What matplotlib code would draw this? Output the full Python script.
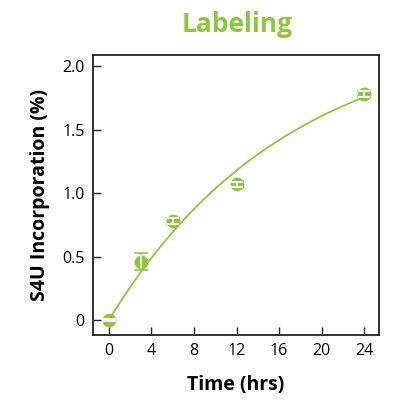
import matplotlib
matplotlib.use('Agg')
import matplotlib.pyplot as plt
import matplotlib.transforms as mtransforms
from matplotlib.patches import Circle
import numpy as np

# data
time_hrs = [0, 3, 6, 12, 24]
s4u_pct = [0.0, 0.46, 0.78, 1.07, 1.78]
s4u_err = [0.01, 0.07, 0.02, 0.02, 0.02]

# one-phase association fit: y = plateau * (1 - exp(-k t))
fit_plateau = 2.31
fit_k = 0.0594

xticks = [0, 4, 8, 12, 16, 20, 24]
yticks = [0, 0.5, 1.0, 1.5, 2.0]
ytick_labels = ['0', '0.5', '1.0', '1.5', '2.0']

green = '#8dc63f'

plt.rcParams['font.family'] = ['Open Sans', 'DejaVu Sans']

fig = plt.figure(figsize=(4.0, 4.07), dpi=100)
ax = fig.add_axes([93 / 400, 1 - 335 / 407, 286 / 400, 280 / 407])

ax.set_xlim(-1.5, 25.4)
ax.set_ylim(-0.118, 2.087)

t = np.linspace(0, 24, 200)
ax.plot(t, fit_plateau * (1 - np.exp(-fit_k * t)), color=green, lw=1.3, zorder=2)

# green error bars under the markers, white ones on top clipped to each marker
ax.errorbar(time_hrs, s4u_pct, yerr=s4u_err, fmt='none', ecolor=green,
            elinewidth=1.2, capsize=5, capthick=1.2, zorder=2.5)
ms = 10
ax.plot(time_hrs, s4u_pct, 'o', color=green, ms=ms, mec='none', zorder=3)

r_px = ms / 2 * fig.dpi / 72
for x, y, e in zip(time_hrs, s4u_pct, s4u_err):
    cx, cy = ax.transData.transform((x, y))
    clip = Circle((0, 0), 1, transform=mtransforms.Affine2D().scale(r_px).translate(cx, cy))
    _, caps, bars = ax.errorbar([x], [y], yerr=[e], fmt='none', ecolor='white',
                                elinewidth=1.2, capsize=5, capthick=1.2, zorder=4)
    for art in list(caps) + list(bars):
        art.set_clip_path(clip)

ax.set_xticks(xticks)
ax.set_yticks(yticks)
ax.set_yticklabels(ytick_labels)
ax.tick_params(direction='in', length=6, width=1, labelsize=11.5, pad=6,
               colors='#222222', labelcolor='black')
for s in ax.spines.values():
    s.set_linewidth(1.3)
    s.set_color('#222222')

ax.set_xlabel('Time (hrs)', fontsize=14, fontweight='bold', labelpad=11)
ax.set_ylabel('S4U Incorporation (%)', fontsize=14, fontweight='bold', labelpad=9)
fig.text(237 / 400, 1 - 25 / 407, 'Labeling', color=green, fontsize=19,
         fontweight='bold', ha='center', va='center')

fig.savefig('out.png', dpi=100)
